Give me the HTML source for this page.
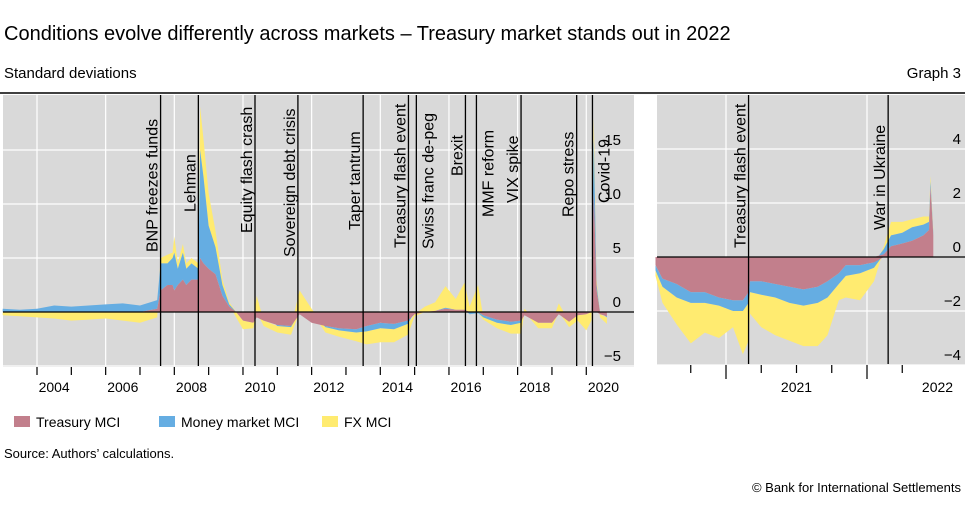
<!DOCTYPE html>
<html><head><meta charset="utf-8"><style>
body{margin:0;background:#fff;font-family:"Liberation Sans",sans-serif}
svg text{font-family:"Liberation Sans",sans-serif;fill:#000}
</style></head><body>
<svg id="c" width="965" height="500" viewBox="0 0 965 500">
<text x="4" y="40" font-size="20">Conditions evolve differently across markets – Treasury market stands out in 2022</text>
<text x="4" y="78" font-size="15">Standard deviations</text>
<text x="961" y="78" font-size="15" text-anchor="end">Graph 3</text>
<line x1="0" y1="93" x2="965" y2="93" stroke="#000" stroke-width="1.5"/>
<rect x="3" y="95" width="631" height="272" fill="#d9d9d9"/>
<rect x="657" y="95" width="308" height="270" fill="#d9d9d9"/>
<g id="L"></g><g id="R"></g>
<g>
<rect x="14" y="416" width="16" height="11" fill="#c27f8c"/>
<text x="36" y="427" font-size="14">Treasury MCI</text>
<rect x="159" y="416" width="16" height="11" fill="#65ade2"/>
<text x="181" y="427" font-size="14">Money market MCI</text>
<rect x="322" y="416" width="16" height="11" fill="#ffeb70"/>
<text x="344" y="427" font-size="14">FX MCI</text>
</g>
<text x="4" y="458" font-size="13">Source: Authors’ calculations.</text>
<text x="961" y="492" font-size="13" text-anchor="end">© Bank for International Settlements</text>
</svg>
<script>
const leftT=[2003.0,2003.5,2004.0,2004.5,2005.0,2005.5,2006.0,2006.5,2007.0,2007.5,2007.6,2007.8,2007.95,2008.0,2008.1,2008.25,2008.35,2008.5,2008.7,2008.75,2008.85,2009.0,2009.2,2009.4,2009.6,2009.8,2010.0,2010.3,2010.4,2010.6,2011.0,2011.4,2011.65,2012.0,2012.4,2012.8,2013.3,2013.6,2014.0,2014.4,2014.8,2015.0,2015.3,2015.6,2015.9,2016.2,2016.45,2016.6,2016.85,2017.0,2017.4,2017.8,2018.1,2018.2,2018.6,2019.0,2019.2,2019.5,2019.75,2020.0,2020.15,2020.22,2020.3,2020.4,2020.6];
const leftTreasury=[0,0,0,0,0,0,0,0,0,0.3,2.0,2.5,2.5,2.0,2.5,3.0,2.5,3.0,3.0,5.0,4.5,4.0,3.5,1.5,0.5,0,-0.8,-1.0,-0.5,-0.8,-1.2,-1.3,-0.2,-1.0,-1.3,-1.5,-1.6,-1.3,-1.0,-1.1,-0.8,-0.2,0,0.1,0.3,0.2,0.2,0,0,-0.3,-0.7,-0.9,-0.8,-0.3,-1.0,-1.0,-0.2,-0.9,-0.3,-0.2,0,11.0,2.0,-0.2,-0.4];
const leftMoney=[0.3,0.2,0.3,0.6,0.5,0.6,0.7,0.8,0.6,0.8,2.5,2.0,2.5,3.5,1.5,2.5,1.5,1.5,1.0,10.0,8.0,4.0,2.5,1.0,0.2,0,0,0,0,0,-0.1,-0.1,0,0,-0.1,-0.2,-0.3,-0.5,-0.5,-0.5,-0.3,0,0,0,0.1,0,0,-0.2,-0.1,-0.2,-0.3,-0.3,-0.2,0,0,0,0,0,0,0,0,5.0,0.5,0,-0.1];
const leftFX=[-0.3,-0.4,-0.5,-0.6,-0.8,-0.7,-0.6,-0.8,-1.0,-0.5,0.5,0.8,0.5,1.5,0.5,0.8,0.5,0.5,0.5,4.0,3.5,3.0,1.5,0.5,0.2,-0.5,-0.8,-0.5,1.5,-0.5,-0.6,-0.7,2.0,0.3,-0.5,-0.6,-0.8,-1.2,-1.3,-1.2,-1.0,-0.2,0.5,0.8,2.0,1.0,2.5,0.5,2.5,-0.2,-0.5,-0.8,-1.0,0.3,-0.5,-0.5,0.8,-0.5,-0.5,-1.5,-0.8,2.0,0.5,-0.3,-0.6];
const leftYTicks=[-5,0,5,10,15];
const leftYearLabels=[2004,2006,2008,2010,2012,2014,2016,2018,2020];
const leftEvents=[["BNP freezes funds",2007.6,252,0],["Lehman",2008.7,212,0],["Equity flash crash",2010.35,233,0],["Sovereign debt crisis",2011.6,257,0],["Taper tantrum",2013.5,230,0],["Treasury flash event",2014.82,248,0],["Swiss franc de-peg",2015.05,249,1],["Brexit",2016.48,176,0],["MMF reform",2016.8,217,1],["VIX spike",2018.1,203,0],["Repo stress",2019.72,217,0],["Covid-19",2020.18,203,1]];
const rightT=[2020.5,2020.55,2020.65,2020.75,2020.85,2020.95,2021.05,2021.12,2021.16,2021.17,2021.25,2021.35,2021.45,2021.55,2021.65,2021.72,2021.8,2021.85,2021.95,2022.05,2022.12,2022.17,2022.25,2022.32,2022.4,2022.44,2022.45,2022.47];
const rightTreasury=[-0.3,-0.8,-1.0,-1.3,-1.3,-1.5,-1.6,-1.6,-1.3,-0.9,-0.9,-1.0,-1.1,-1.2,-1.1,-0.9,-0.6,-0.3,-0.3,-0.2,0.1,0.4,0.5,0.6,0.8,1.0,2.6,0.8];
const rightMoney=[-0.2,-0.3,-0.5,-0.4,-0.4,-0.3,-0.4,-0.4,-0.4,-0.4,-0.5,-0.5,-0.6,-0.6,-0.6,-0.6,-0.4,-0.4,-0.3,-0.2,0.2,0.4,0.4,0.5,0.4,0.3,0.2,0.1];
const rightFX=[-0.2,-0.6,-1.0,-1.5,-1.1,-1.2,-0.6,-1.6,-1.4,-0.8,-1.2,-1.4,-1.4,-1.5,-1.6,-1.4,-0.6,-0.8,-1.0,-0.5,0.1,0.5,0.4,0.3,0.3,0.2,0.2,0.1];
const rightYTicks=[-4,-2,0,2,4];
const rightYearLabels=[2021,2022];
const rightEvents=[["Treasury flash event",2021.16,248,0],["War in Ukraine",2022.15,230,0]];
const colors=["#c27f8c","#65ade2","#ffeb70"];
const NS="http://www.w3.org/2000/svg";
function mk(tag,attrs,parent){const e=document.createElementNS(NS,tag);for(const k in attrs)e.setAttribute(k,attrs[k]);parent.appendChild(e);return e;}
function panel(g,cfg){
  const xs=t=>cfg.x0+(t-cfg.t0)*cfg.px;
  const ys=v=>cfg.yz-v*cfg.py;
  cfg.yTicks.forEach(v=>{if(v!==0){const l=mk("line",{x1:cfg.left,x2:cfg.right,y1:ys(v),y2:ys(v),stroke:"#fff","stroke-width":1.2},g);
    
    }});
  cfg.gridT.forEach(t=>{const l=mk("line",{x1:xs(t),x2:xs(t),y1:95,y2:cfg.bottom,stroke:"#fff","stroke-width":1.2},g);
    
    });
  const series=[cfg.a,cfg.b,cfg.c];
  const n=cfg.T.length;
  const lo=[[],[],[]],hi=[[],[],[]];
  for(let i=0;i<n;i++){let p=0,q=0;for(let s=0;s<3;s++){const v=series[s][i];if(v>=0){lo[s].push(p);hi[s].push(p+v);p+=v;}else{hi[s].push(q);lo[s].push(q+v);q+=v;}}}
  const names=['area-treasury','area-money-market','area-fx'];
  for(let s=2;s>=0;s--){
    let pts=[];
    for(let i=0;i<n;i++)pts.push(xs(cfg.T[i]).toFixed(1)+","+ys(hi[s][i]).toFixed(1));
    for(let i=n-1;i>=0;i--)pts.push(xs(cfg.T[i]).toFixed(1)+","+ys(lo[s][i]).toFixed(1));
    const p=mk("polygon",{points:pts.join(" "),fill:colors[s]},g);
    
    
  }
  const z=mk("line",{x1:cfg.left,x2:cfg.right,y1:ys(0),y2:ys(0),stroke:"#000","stroke-width":1.3},g);
  
  
  cfg.events.forEach(ev=>{const x=xs(ev[1]);
    const l=mk("line",{x1:x,x2:x,y1:95,y2:cfg.bottom,stroke:"#000","stroke-width":1.3},g);
    
    
    const tx=ev[3]?x+17:x-3;
    const t=mk("text",{x:0,y:0,"font-size":16,transform:`translate(${tx},${ev[2]}) rotate(-90)`},g);
    t.textContent=ev[0];
    
    });
  cfg.yTicks.forEach(v=>{const t=mk("text",{x:cfg.labX,y:ys(v)-5,"font-size":15,"text-anchor":"end"},g);
    t.textContent=v<0?"\u2212"+(-v):String(v);
    
    });
  cfg.tickT.forEach(tk=>{const l=mk("line",{x1:xs(tk[0]),x2:xs(tk[0]),y1:cfg.bottom+1,y2:cfg.bottom+1+tk[1],stroke:"#000","stroke-width":1.2},g);
    
    });
  cfg.yearLabels.forEach(yr=>{const t=mk("text",{x:xs(yr+0.5),y:392,"font-size":14,"text-anchor":"middle"},g);
    t.textContent=yr;
    
    });
}
const lt=[];for(let y=2004;y<=2020;y++)lt.push([y,8]);
const lg=[];for(let y=2004;y<=2020;y+=2)lg.push(y);
panel(document.getElementById("L"),{T:leftT,a:leftTreasury,b:leftMoney,c:leftFX,x0:37,t0:2004,px:34.33,yz:312,py:10.8,left:3,right:634,bottom:366,yTicks:leftYTicks,gridT:lg,events:leftEvents,labX:621,tickT:lt,yearLabels:leftYearLabels});
const rt=[[2020.75,8],[2021,14],[2021.25,8],[2021.5,8],[2021.75,8],[2022,14],[2022.25,8]];
panel(document.getElementById("R"),{T:rightT,a:rightTreasury,b:rightMoney,c:rightFX,x0:726,t0:2021,px:141,yz:257,py:27,left:657,right:965,bottom:364,yTicks:rightYTicks,gridT:[2021,2022],events:rightEvents,labX:961,tickT:rt,yearLabels:rightYearLabels});
</script>
</body></html>
